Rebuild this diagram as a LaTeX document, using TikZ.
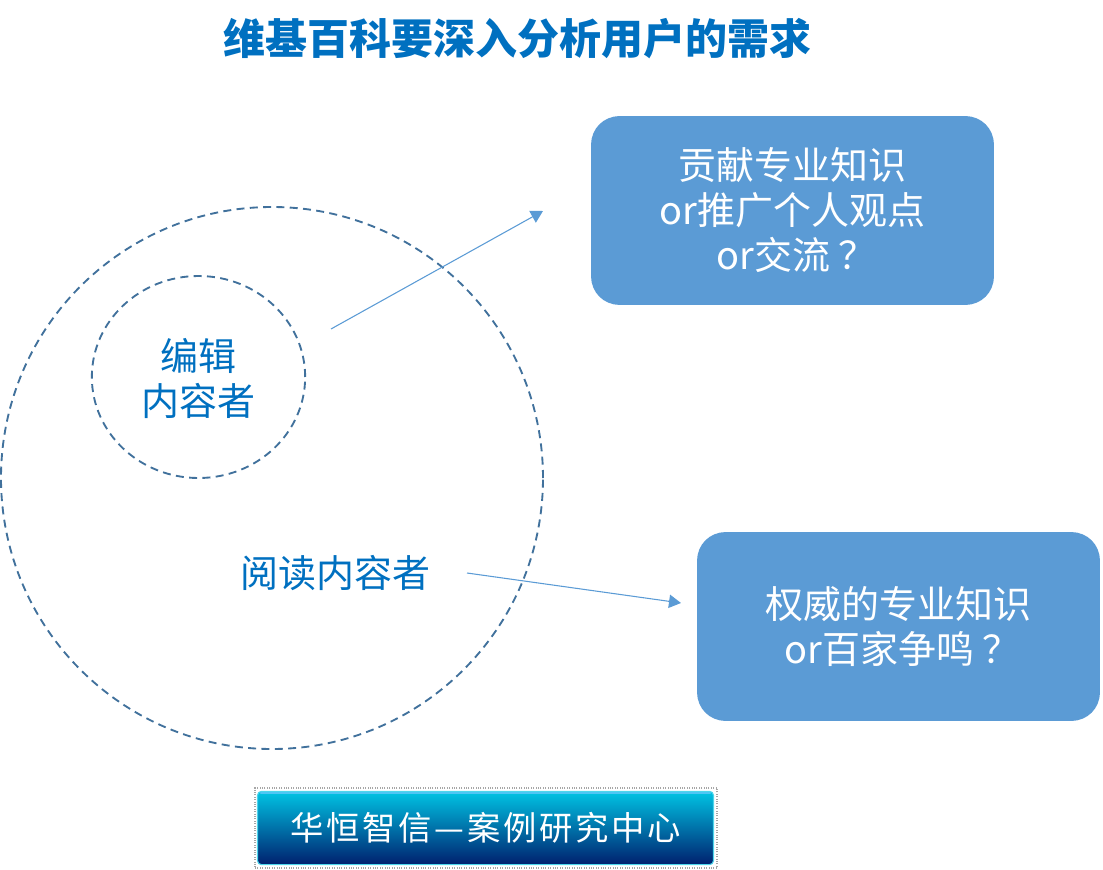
\documentclass[tikz,border=0pt]{standalone}
\usepackage{fontspec}
\setmainfont{Noto Sans CJK SC}
\newfontfamily\logofont[LetterSpace=8]{Noto Sans CJK SC}
\usetikzlibrary{shapes.geometric,arrows.meta}
\definecolor{txtblue}{HTML}{0070C0}
\definecolor{boxblue}{HTML}{5B9BD5}
\definecolor{ringblue}{HTML}{41719C}
\definecolor{logotop}{HTML}{00C4E4}
\definecolor{logomid}{HTML}{0078AC}
\definecolor{logobot}{HTML}{00206E}
\tikzset{
  px/.style={x=0.75pt,y=-0.75pt},
  bubble/.style={draw=none,fill=boxblue,rounded corners=21pt,minimum width=302pt,minimum height=141.5pt,
    text=white,font=\fontsize{28.5}{33.75}\selectfont,align=center,inner sep=0pt},
  ring/.style={draw=ringblue,line width=1.4pt,dash pattern=on 6pt off 4pt,ellipse,inner sep=0pt},
  label/.style={text=txtblue,font=\fontsize{28.5}{33.75}\selectfont,align=center,inner sep=0pt},
  pointer/.style={draw=boxblue,line width=0.8pt,-{Triangle[length=9pt,width=10pt,fill=boxblue]}},
}
\newcommand{\qm}{\hspace{0.22em}？}
\newcommand{\lead}{\hspace*{0.2em}}
\begin{document}
\begin{tikzpicture}[px]
\useasboundingbox (0,0) rectangle (1103,870);
\node[text=txtblue,font=\fontsize{31.5}{36}\selectfont\bfseries,inner sep=0pt] (title) at (517.5,39) {维基百科要深入分析用户的需求};
\node[ring,minimum width=406.5pt,minimum height=406.5pt] (outer) at (272,478) {};
\node[ring,minimum width=160pt,minimum height=151.5pt] (inner) at (198.5,377) {};
\node[label] (editors) at (198.5,378) {编辑\\内容者};
\node[label] (readers) at (335,573.5) {阅读内容者};
\node[bubble] (boxa) at (792.5,210.5) {贡献专业知识\\or推广个人观点\\\lead or交流\qm};
\node[bubble] (boxb) at (898.5,626.5) {权威的专业知识\\\lead or百家争鸣\qm};
\coordinate (a1) at (331,329);
\coordinate (a2) at (543,211);
\coordinate (b1) at (467,573);
\coordinate (b2) at (681,603);
\draw[pointer] (a1) -- (a2);
\draw[pointer] (b1) -- (b2);
\node[draw=gray!70,densely dotted,line width=0.8pt,minimum width=346.5pt,minimum height=60pt,inner sep=0pt] (frame) at (486,828) {};
\node[rounded corners=3pt,draw=logotop!70,line width=0.8pt,shading angle=150,top color=logotop,middle color=logomid,bottom color=logobot,
  minimum width=342pt,minimum height=55pt,inner sep=0pt,text=white,font=\logofont\fontsize{25}{28}\selectfont] (logo) at (485.5,828) {华恒智信—案例研究中心};
\draw[draw=cyan!70,line width=1.5pt,line cap=round] ([xshift=3pt,yshift=-2pt]logo.north west) -- ([xshift=-3pt,yshift=-2pt]logo.north east);
\end{tikzpicture}
\end{document}
